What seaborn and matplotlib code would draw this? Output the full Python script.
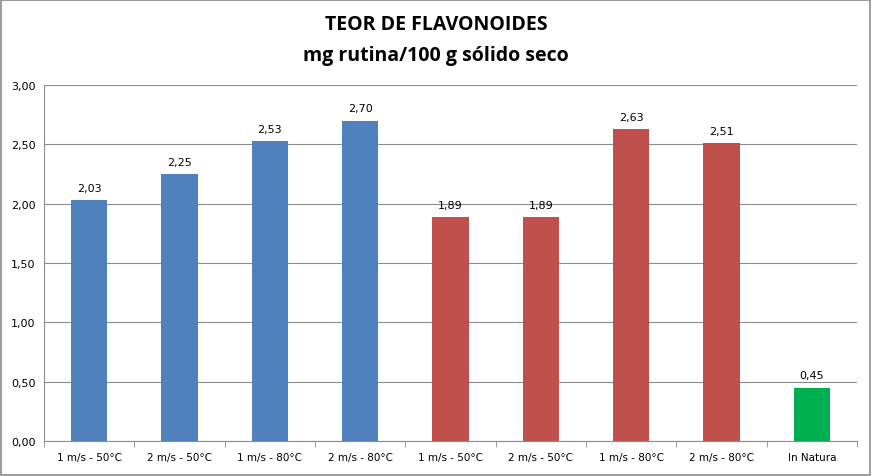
import numpy as np
import pandas as pd
import matplotlib
matplotlib.use("Agg")
import matplotlib.pyplot as plt
import seaborn as sns
from matplotlib.patches import Rectangle

categories = ["1 m/s - 50°C", "2 m/s - 50°C", "1 m/s - 80°C", "2 m/s - 80°C",
              "1 m/s - 50°C ", "2 m/s - 50°C ", "1 m/s - 80°C ", "2 m/s - 80°C ",
              "In Natura"]
values = [2.03, 2.25, 2.53, 2.70, 1.89, 1.89, 2.63, 2.51, 0.45]
groups = ["a", "a", "a", "a", "b", "b", "b", "b", "c"]
yticks = [0.0, 0.5, 1.0, 1.5, 2.0, 2.5, 3.0]

group_colors = {"a": "#4F81BD", "b": "#C0504D", "c": "#00B050"}

df = pd.DataFrame({"cat": categories, "val": values, "grp": groups})

sns.set_style("white")
plt.rcParams['font.family'] = ['DejaVu Sans']
plt.rcParams['text.color'] = 'black'
plt.rcParams['xtick.labelcolor'] = 'black'
plt.rcParams['ytick.labelcolor'] = 'black'

fig = plt.figure(figsize=(8.72, 4.77), dpi=100)
ax = fig.add_axes([44/872, 1-442/477, (857-44)/872, (442-86)/477])

sns.barplot(data=df, x="cat", y="val", hue="grp", palette=group_colors,
            dodge=False, width=0.4, legend=False, ax=ax, saturation=1,
            linewidth=0, edgecolor="none")

ax.set_ylim(0, 3.0)
ax.set_xlim(-0.5, len(categories) - 0.5)
ax.set_yticks(yticks)
ax.set_yticklabels([f"{t:.2f}".replace(".", ",") for t in yticks], fontsize=8)
ax.yaxis.grid(True, color="#8c8c8c", linewidth=0.8)
ax.set_axisbelow(True)
ax.set_xlabel("")
ax.set_ylabel("")

# x ticks between categories, labels centered
ax.set_xticks(np.arange(len(categories)))
ax.set_xticklabels([c.strip() for c in categories], fontsize=7.5)
ax.set_xticks(np.arange(-0.5, len(categories)), minor=True)
ax.tick_params(axis="x", which="major", length=0, pad=8)
ax.tick_params(axis="x", which="minor", length=4, color="#8c8c8c", direction="out")
ax.tick_params(axis="y", length=4, color="#8c8c8c", direction="out", pad=2)
ax.xaxis.set_tick_params(bottom=True, which="both")

for s in ["top", "right"]:
    ax.spines[s].set_visible(False)
for s in ["left", "bottom"]:
    ax.spines[s].set_color("#8c8c8c")
    ax.spines[s].set_linewidth(0.8)

for i, v in enumerate(values):
    ax.text(i, v + 0.06, f"{v:.2f}".replace(".", ","), ha="center", va="bottom",
            fontsize=8, color="black")

fig.text(0.5, 0.948, "TEOR DE FLAVONOIDES", ha="center", va="center",
         fontsize=14, fontweight="bold", family="Open Sans", color="black")
fig.text(0.5, 0.883, "mg rutina/100 g sólido seco", ha="center", va="center",
         fontsize=14, fontweight="bold", family="Open Sans", color="black")

fig.patches.append(Rectangle((0.001, 0.002), 0.997, 0.996, transform=fig.transFigure,
                             fill=False, edgecolor="#8c8c8c", linewidth=1.2))

fig.savefig("out.png", dpi=100)
